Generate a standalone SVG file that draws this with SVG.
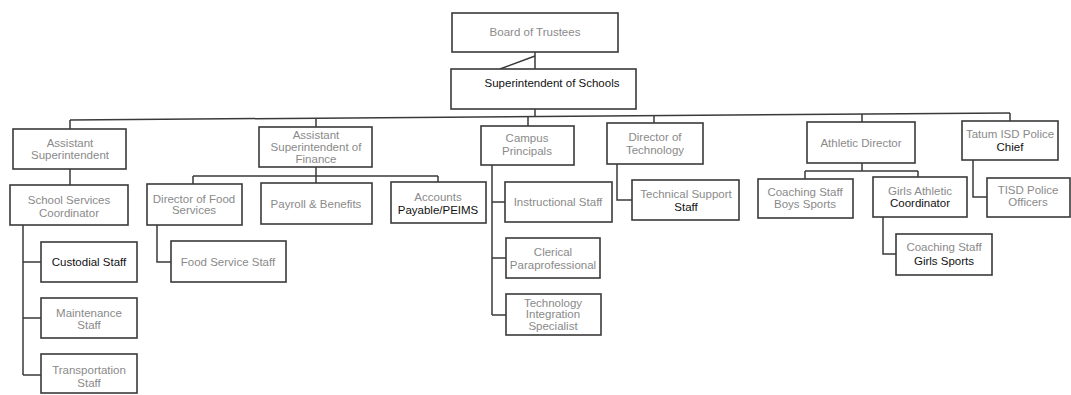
<svg xmlns="http://www.w3.org/2000/svg" width="1071" height="395" viewBox="0 0 1071 395">
<style>
.b{fill:#fff;stroke:#3a3a3a;stroke-width:1.6}
.c{fill:none;stroke:#3a3a3a;stroke-width:1.5}
text{font-family:"Liberation Sans",Arial,sans-serif;font-size:11.5px;fill:#8a8a8a;text-anchor:middle}
.k{fill:#111}
</style>
<rect width="1071" height="395" fill="#fff"/>
<g id="connectors">
<path class="c" d="M535 52V69M535 56L500 69"/>
<path class="c" d="M535 109V117"/>
<path class="c" d="M70 120L1010 113"/>
<path class="c" d="M70 120V129M316 118V127M528 116.6V126M654 115.6V123M862 114.1V122M1010 113V121"/>
<path class="c" d="M70 169V185"/>
<path class="c" d="M23 225V375M23 262H41M23 318H41M23 375H41"/>
<path class="c" d="M316 167V176M193 176H438M193 176V184M316 176V183M438 176V182"/>
<path class="c" d="M157 225V262H171"/>
<path class="c" d="M492 165V315M492 202H505M492 258H506M492 315H506"/>
<path class="c" d="M617 164V200H632"/>
<path class="c" d="M862 163V171M805 171H918M805 171V179M918 171V177"/>
<path class="c" d="M883 217V254H896"/>
<path class="c" d="M973 160V197H987"/>
</g>
<g id="board"><rect class="b" x="452" y="13" width="166" height="39"/><text x="535" y="36">Board of Trustees</text></g>
<g id="superintendent"><rect class="b" x="451" y="69" width="185" height="40"/><text class="k" x="552" y="87">Superintendent of Schools</text></g>
<g id="asst-supt"><rect class="b" x="13" y="129" width="113" height="40"/><text x="70" y="147">Assistant</text><text x="70" y="159">Superintendent</text></g>
<g id="asst-supt-finance"><rect class="b" x="259" y="127" width="113" height="40"/><text x="316" y="139">Assistant</text><text x="316" y="151">Superintendent of</text><text x="316" y="163">Finance</text></g>
<g id="campus-principals"><rect class="b" x="481" y="126" width="93" height="39"/><text x="527" y="142">Campus</text><text x="527" y="155">Principals</text></g>
<g id="dir-tech"><rect class="b" x="607" y="123" width="96" height="41"/><text x="655" y="141">Director of</text><text x="655" y="154">Technology</text></g>
<g id="athletic-director"><rect class="b" x="807" y="122" width="108" height="41"/><text x="861" y="147">Athletic Director</text></g>
<g id="police-chief"><rect class="b" x="962" y="121" width="96" height="39"/><text x="1010" y="138">Tatum ISD Police</text><text class="k" x="1010" y="151">Chief</text></g>
<g id="school-services"><rect class="b" x="10" y="185" width="118" height="40"/><text x="69" y="204">School Services</text><text x="69" y="217">Coordinator</text></g>
<g id="dir-food"><rect class="b" x="147" y="184" width="95" height="41"/><text x="194" y="203">Director of Food</text><text x="194" y="214">Services</text></g>
<g id="payroll"><rect class="b" x="261" y="183" width="111" height="41"/><text x="316" y="208">Payroll &amp; Benefits</text></g>
<g id="accounts-payable"><rect class="b" x="391" y="182" width="95" height="41"/><text x="438" y="201">Accounts</text><text class="k" x="438" y="214">Payable/PEIMS</text></g>
<g id="food-service-staff"><rect class="b" x="171" y="241" width="115" height="41"/><text x="228" y="266">Food Service Staff</text></g>
<g id="custodial"><rect class="b" x="41" y="242" width="96" height="40"/><text class="k" x="89" y="266">Custodial Staff</text></g>
<g id="maintenance"><rect class="b" x="41" y="298" width="96" height="40"/><text x="89" y="317">Maintenance</text><text x="89" y="329">Staff</text></g>
<g id="transportation"><rect class="b" x="41" y="354" width="96" height="39"/><text x="89" y="374">Transportation</text><text x="89" y="387">Staff</text></g>
<g id="instructional"><rect class="b" x="505" y="182" width="107" height="40"/><text x="558" y="206">Instructional Staff</text></g>
<g id="clerical"><rect class="b" x="506" y="238" width="94" height="40"/><text x="553" y="256">Clerical</text><text x="553" y="269">Paraprofessional</text></g>
<g id="tech-integration"><rect class="b" x="506" y="294" width="95" height="41"/><text x="553" y="307">Technology</text><text x="553" y="318">Integration</text><text x="553" y="330">Specialist</text></g>
<g id="tech-support"><rect class="b" x="632" y="180" width="107" height="40"/><text x="686" y="198">Technical Support</text><text class="k" x="686" y="211">Staff</text></g>
<g id="coaching-boys"><rect class="b" x="758" y="179" width="95" height="39"/><text x="805" y="196">Coaching Staff</text><text x="805" y="208">Boys Sports</text></g>
<g id="girls-athletic"><rect class="b" x="873" y="177" width="94" height="40"/><text x="920" y="195">Girls Athletic</text><text class="k" x="920" y="207">Coordinator</text></g>
<g id="coaching-girls"><rect class="b" x="896" y="234" width="96" height="41"/><text x="944" y="251">Coaching Staff</text><text class="k" x="944" y="265">Girls Sports</text></g>
<g id="police-officers"><rect class="b" x="987" y="178" width="83" height="39"/><text x="1028" y="194">TISD Police</text><text x="1028" y="206">Officers</text></g>
</svg>
